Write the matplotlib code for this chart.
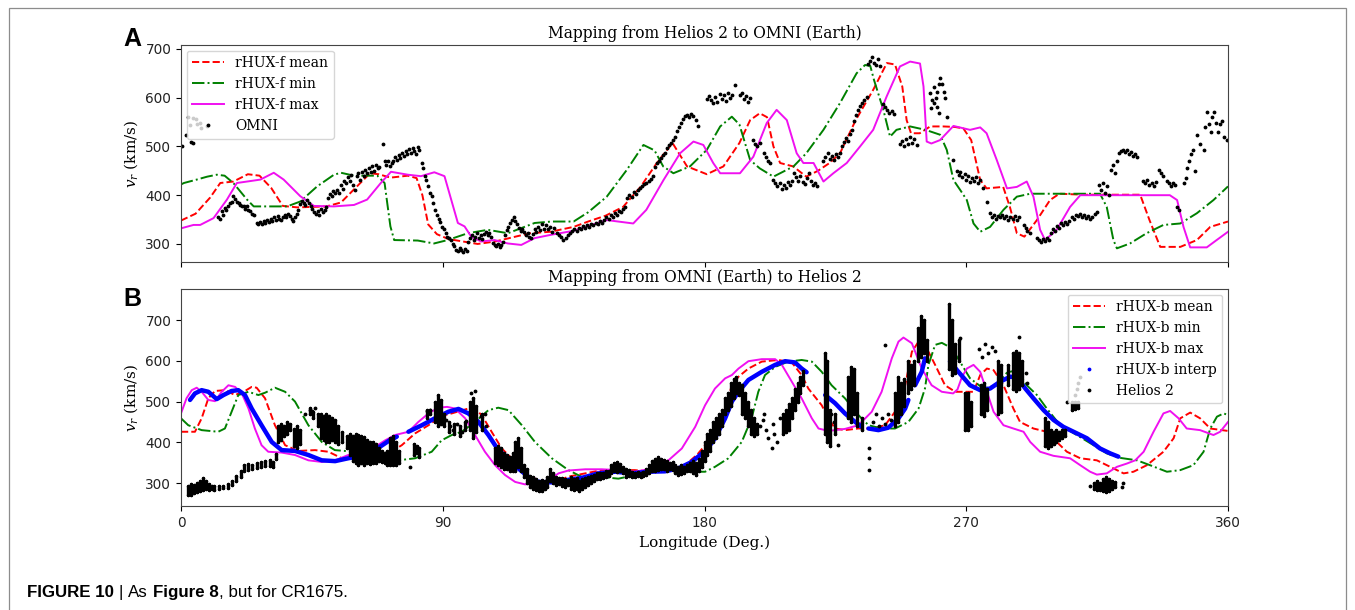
import numpy as np
import matplotlib
matplotlib.use('Agg')
import matplotlib.pyplot as plt
from matplotlib.lines import Line2D
from matplotlib.patches import Rectangle
from matplotlib.transforms import IdentityTransform

# ---- panel A: Helios 2 mapped forward to OMNI (lon deg, v km/s) ----
fwd_mean = [(0,348),(5,362),(10,395),(13.5,425),(18,428),(23,443),(27,440),(31,415),(35,378),(40,375),
            (50,377),(55,385),(60,415),(65,445),(68,443),(72,436),(78,440),(81,435),(83,400),(85,340),
            (88,320),(92,310),(97,305),(102,300),(108,305),(115,315),(120,322),(127,325),(135,335),(140,346),
            (146,358),(152,376),(158,417),(163.6,466),(169,507),(174,459),(180.8,443),(186.5,459),(192,507),
            (195.7,554),(199,568),(201.5,560),(203.7,500),(206,466),(210.5,459),(215,438),(219,450),(223,466),
            (226.6,486),(232,554),(238,616),(242.7,671),(245.5,668),(248,623),(249.5,554),(251,527),(254,527),
            (257.6,541),(262,541),(266,540),(269,537),(271.7,513),(274.8,431),(277,414),(282.7,417),(285,376),
            (287.4,322),(290,315),(294.3,349),(298.8,390),(302,403),(310,401),(320,401),(329.8,401),(333,349),
            (336.7,294),(343.6,294),(349.3,308),(353.9,335),(360,346)]
fwd_min = [(0,422),(1,425),(5.4,432),(9,438),(12.3,442),(15,440),(18,425),(22.7,391),(25,377),(36.5,377),
           (41,387),(46.8,418),(52.6,442),(55,446),(59.5,440),(67.5,440),(70,425),(71,380),(72,336),(73.3,308),
           (81.4,307),(87,301),(91.7,308),(98.6,322),(105.5,329),(112.4,322),(121.6,343),(127.4,346),(135,346),
           (140,365),(146.4,397),(153.3,452),(159,503),(162.8,492),(165.8,459),(169.3,445),(175,459),(180.8,493),
           (185.4,541),(189.4,561),(192,545),(195.7,472),(199,455),(203.7,438),(210.6,459),(215,486),(220.9,534),
           (226.6,589),(232.3,650),(235.2,667),(237,665),(238.3,636),(241.5,575),(243.8,520),(246,534),
           (250.7,541),(256,534),(261,524),(263.3,493),(265.6,431),(268,410),(270.2,390),(272.5,342),(274.8,325),
           (278.2,335),(282.8,370),(287.4,397),(292,403),(316,403),(318.3,376),(320.6,308),(321.8,291),
           (326.3,301),(332,322),(337.8,339),(343.6,342),(349.3,363),(355,390),(360,418)]
fwd_max = [(0,332),(4.3,339),(6.6,339),(11.2,353),(15.8,391),(19.2,425),(22.7,428),(27.3,432),(31.9,446),
           (35.3,432),(41,398),(45.7,378),(52.6,377),(59.5,380),(64,391),(68.7,425),(72.2,448),(78,442),
           (82.5,439),(87.1,447),(90.6,439),(92.9,391),(95.2,343),(97.5,336),(99.8,315),(103.2,305),(107.8,308),
           (112.4,301),(117,298),(121.6,312),(127.4,319),(135,327),(146.4,349),(155.5,342),(160,370),(165.9,431),
           (171.6,486),(176.2,510),(179.6,503),(183,466),(185.4,445),(192.2,445),(196.8,479),(201.4,548),
           (204.8,575),(208.3,554),(211.7,486),(214,466),(217.5,466),(220.9,428),(224.3,445),(228.9,466),
           (233.5,500),(238,534),(242.6,602),(247.2,664),(250.7,674),(254.1,670),(255.3,623),(256.4,510),
           (258,506),(261,513),(265.6,542),(271.3,534),(274.8,539),(277,527),(280.5,472),(284,414),(287.4,417),
           (290.8,428),(293.1,397),(295.4,329),(297.1,308),(301.1,329),(305.7,376),(309.2,400),(340,400),
           (342.5,390),(344.7,335),(347,293),(352.7,293),(356.1,308),(360,325)]
omni = [(0.2,500),(1.7,523),(2.5,560),(3.0,543),(3.5,510),(4.0,558),(4.2,508),(5.0,556),(5.5,545),(6.5,548),
        (7.0,537),(8.8,541),
        (12.8,356),(13.3,352),(14.0,367),(14.5,360),(15.0,374),(15.6,370),(16.2,377),(16.8,384),(17.4,387),
        (18.0,398),(18.6,392),(19.2,387),(19.8,383),(20.3,380),(21.0,378),(21.5,377),(22.1,372),(22.7,377),
        (23.2,370),(23.8,367),(24.4,362),(25.0,360),
        (26.0,343),(26.6,340),(27.2,345),(27.8,341),(28.4,347),(29.0,343),(29.6,350),(30.2,345),(30.8,352),
        (31.4,347),(32.0,355),(32.6,350),(33.2,357),(33.8,352),(34.4,350),(35.0,355),(35.6,360),(36.2,356),
        (36.8,362),(37.4,358),(38.0,352),(38.6,348),(39.2,355),(39.8,362),(40.4,370),
        (41.0,382),(41.6,388),(42.2,385),(42.8,380),(43.4,390),(44.0,384),(44.6,378),(45.2,372),
        (45.8,366),(46.4,362),(47.0,368),(47.6,360),(48.2,372),(48.8,365),(49.4,370),(50.0,375),
        (50.6,395),(51.2,402),(51.8,398),(52.4,408),(53.0,404),(53.6,410),(54.2,405),
        (55.0,420),(55.6,412),(56.2,430),(56.8,425),(57.4,438),(58.0,430),(58.6,442),(59.2,420),(59.8,410),
        (60.4,440),(61.0,445),(61.6,432),(62.2,448),(62.8,440),(63.4,452),(64.0,445),
        (64.6,455),(65.2,447),(65.8,460),(66.4,450),(67.0,462),(67.6,455),(68.2,458),
        (69.3,504),(70.0,470),(70.6,462),(71.2,470),(71.8,460),(72.4,465),
        (73.0,470),(73.6,478),(74.2,472),(74.8,482),(75.4,476),(76.0,486),(76.6,480),(77.2,490),(77.8,484),
        (78.4,494),(79.0,486),(79.6,496),(80.2,490),(80.8,485),(81.4,498),(82.0,492),
        (82.8,466),(83.3,455),(83.8,440),(84.3,432),(85.0,418),(85.6,405),(86.2,398),(86.8,385),(87.4,370),
        (88.0,360),(88.6,352),(89.2,345),(89.8,335),(90.4,330),(91.0,322),(91.6,315),(92.2,312),(92.8,308),
        (93.4,300),(94.0,295),(94.6,288),(95.2,285),(95.8,292),(96.4,288),(97.0,283),(97.6,290),(98.2,285),
        (98.8,305),(99.4,312),(100.0,318),(100.6,308),(101.2,315),(101.8,322),(102.4,312),(103.0,318),
        (103.6,310),(104.2,320),(104.8,325),(105.4,318),(106.0,322),(106.6,315),(107.2,302),(107.8,298),
        (108.4,296),(109.0,300),(109.6,294),(110.2,298),(110.8,305),
        (111.4,318),(112.0,328),(112.6,335),(113.2,342),(113.8,350),(114.4,355),(115.0,348),(115.6,340),
        (116.2,332),(116.8,326),(117.4,330),(118.0,325),(118.6,318),(119.2,322),(119.8,315),(120.4,312),
        (121.0,320),(121.6,330),(122.2,325),(122.8,335),(123.4,328),
        (124,340),(124.8,330),(125.5,338),(126.2,330),(127,335),(127.7,325),(128.4,332),(129.2,322),
        (130,318),(130.8,314),(131.5,308),(132.3,312),(133,318),(133.7,322),
        (134.5,326),(135.2,330),(136,327),(136.7,333),(137.4,330),(138.2,336),(138.9,333),(139.6,338),
        (140.4,335),(141.1,341),(141.8,338),(142.6,344),(143.3,341),(144,347),(144.7,344),(145.5,350),
        (146.2,356),(147,352),(147.7,360),(148.4,356),(149.2,364),(149.9,360),(150.6,368),(151.4,365),
        (152.1,372),(152.8,376),(153.5,395),(154.2,400),(155,397),(155.7,406),(156.4,402),(157.2,410),
        (157.9,414),(158.6,418),(159.3,422),(160,426),(160.8,430),(161.5,434),(162.2,440),
        (163,458),(163.6,465),(164.3,470),(165,476),(165.7,482),(166.4,486),
        (167.2,496),(167.8,502),(168.5,508),(169.2,514),(169.9,520),
        (170.6,532),(171.3,540),(172,548),(172.7,556),(173.4,562),(174.1,565),(174.8,560),(175.5,567),
        (176.2,562),(177,555),(177.7,541),
        (180.8,598),(181.5,604),(182.2,596),(183,590),(183.7,602),(184.4,592),
        (185.2,608),(186,598),(186.7,605),(187.4,594),(188.1,610),(188.8,600),(189.5,606),(190.5,626),
        (192.2,605),(192.9,610),(193.6,598),(194.3,604),(195,592),(195.7,600),
        (196.8,513),(197.5,505),(198.2,500),(199,508),(200.3,486),(201,478),(201.7,470),(202.5,466),
        (203.7,431),(204.4,425),(205.1,418),(205.8,424),(206.5,412),(207.2,420),(208,415),(208.7,428),
        (209.4,420),(210,430),(210.8,445),(211.5,438),(212.2,430),(213,440),(213.7,428),(214.4,422),
        (215.1,435),(215.8,445),(216.5,430),(217.2,420),(218,425),(218.6,418),
        (220.9,470),(221.6,478),(222.3,486),(223,474),(223.7,480),(224.4,472),(225.1,484),(225.8,478),
        (226.6,486),(227.3,500),(228,510),(228.7,518),(229.4,512),(230.1,525),(230.8,534),
        (231.5,552),(232.2,565),(232.9,575),(233.6,582),(234.3,590),(235,596),(235.8,602),
        (236.2,670),(237,676),(237.6,684),(238.3,672),(239,668),(239.7,680),(240.4,664),
        (241.5,588),(242.2,580),(242.9,575),(243.6,568),(244.3,572),(245,566),
        (247.3,505),(248,512),(248.7,500),(249.4,516),(250.1,504),(250.8,520),(251.5,508),(252.2,515),
        (253,502),(257.6,610),(258.3,595),(259,622),(259.9,580),(260.5,568),
        (258,578),(258.8,590),(259.5,600),(260,612),(260.5,628),(261,640),(261.6,628),(262.2,612),
        (262.8,600),(263.3,561),
        (265.6,472),(266.7,450),(267.4,442),(268,448),(268.7,438),(269.4,444),(270,432),(270.7,440),
        (271.4,428),(272,436),(272.7,430),(273.4,438),(274.1,426),(274.8,432),(275.9,415),(277,387),
        (278.2,363),(278.9,356),(279.6,360),(280.3,352),(281,358),(281.7,355),(282.4,360),(283,354),
        (283.8,358),(284.5,350),(285.2,356),(286,352),(286.7,358),(287.4,350),(288.1,356),
        (289.7,339),(290.4,332),(291,326),(291.8,322),
        (294.3,313),(295,308),(295.7,305),(296.4,310),(297.1,306),(297.8,312),(298.5,308),
        (299.2,322),(299.9,330),(300.6,326),(301.3,336),(302,332),(302.7,342),(303.4,338),(304.1,346),
        (304.8,340),(305.5,348),(306.2,356),(307,352),(307.7,360),(308.4,357),(309.1,362),(309.8,355),
        (310.5,360),(311.2,354),(312,358),(312.7,352),(313.4,356),(314.1,362),(314.9,365),
        (315.5,420),(316.2,410),(316.9,425),(317.6,405),(318.3,418),(319.1,400),
        (319.8,452),(320.5,462),(321.2,445),(321.9,470),
        (322.5,486),(323.2,490),(323.9,493),(324.6,488),(325.3,492),(326,485),(326.7,488),(327.4,480),
        (328,484),(328.7,478),
        (330.9,430),(331.6,424),(332.3,432),(333,420),(333.7,426),(334.4,418),(335.2,428),
        (336.4,452),(337,446),(337.6,440),
        (339,430),(339.7,424),(340.4,418),(341.1,426),(341.8,420),(342.4,376),(343,370),
        (344.7,424),(345.4,436),(346,455),(346.7,470),(347.4,484),(348,492),
        (348.6,450),(349.3,524),(350.5,505),(351.6,493),(352.2,540),(352.7,571),(353.3,545),(354,530),
        (354.6,560),(355.3,571),(356,548),(356.7,530),(357.3,545),(358,552),(358.6,520),(359.6,513)]

# ---- panel B: OMNI mapped back to Helios 2 ----
bwd_mean = [(0,426),(4.8,426),(7.1,459),(9.4,508),(11.7,526),(15.1,528),(18.6,516),(22,526),(24.3,536),
            (26,534),(28.9,508),(32.3,442),(35.8,393),(40.3,379),(46.1,381),(50.7,377),(55.3,361),(62.1,361),
            (66.7,367),(71.3,373),(75.9,393),(80.5,422),(85.1,442),(89.6,465),(93.1,471),(98.8,483),(101,482),
            (103.4,467),(106.8,426),(110.3,385),(114.9,352),(119.4,320),(124,303),(128.6,303),(133.2,316),
            (139,324),(144.7,332),(156,332),(161.9,328),(167.6,332),(173.3,344),(177.5,370),(180.2,393),
            (183.6,426),(187.1,483),(189.4,540),(191.7,561),(195.1,581),(199.7,598),(205.4,602),(210,596),
            (213.4,565),(215.7,532),(220.3,491),(222.6,459),(224.9,434),(228.3,430),(232.9,434),(237.5,434),
            (242.1,442),(245.5,475),(249,540),(251.3,622),(253.6,647),(255.8,639),(259.3,590),(262.7,540),
            (266.2,524),(272.5,524),(274.8,565),(277.1,581),(279.4,577),(282.8,540),(286.2,483),(288.5,450),
            (293.1,434),(297.7,426),(301.1,401),(304.6,377),(309.2,361),(314.9,356),(319.5,340),(324.1,324),
            (327.5,328),(332.1,344),(337.8,377),(341.3,410),(343.6,459),(347,473),(350.4,459),(353.9,434),
            (360,428)]
bwd_min = [(0,459),(2.5,442),(7.1,430),(12.8,426),(15.1,434),(17.4,475),(19.7,516),(23.2,524),(26.6,516),
           (29,522),(32.3,534),(35.8,524),(39.2,500),(43.8,442),(48.4,401),(52.9,381),(59.8,377),(64,377),
           (69,361),(74.7,356),(80.5,361),(86.2,377),(89.6,405),(93.1,418),(96.5,426),(101.1,450),(105.7,479),
           (109.1,485),(112.6,479),(117.2,442),(121.7,401),(127.5,361),(133.2,332),(139,311),(144.7,315),
           (150.4,311),(156.1,320),(161.9,328),(167.6,332),(173.3,328),(180.2,328),(183.6,340),(188.2,361),
           (192.8,401),(196.2,459),(198.5,524),(200.8,565),(204.3,585),(208.8,598),(213.4,602),(216.9,598),
           (220.3,573),(223.7,540),(228.3,508),(232.9,467),(236.4,442),(240.9,434),(245.5,434),(250.1,450),
           (253.6,483),(255.8,532),(257,590),(259.3,639),(261.6,644),(265,631),(268.5,590),(271.3,557),
           (275.9,532),(280.5,540),(284,571),(286.2,575),(288.5,565),(290.8,540),(294.3,516),(297.7,483),
           (302.3,442),(308,418),(313.8,393),(318.3,373),(322.9,362),(328.7,356),(333.2,344),(339,328),
           (343.6,332),(348.1,344),(351.6,377),(353.9,434),(356.2,463),(358.5,471),(360,467)]
bwd_max = [(0,471),(1.9,508),(3.7,528),(5.4,534),(7.1,524),(9.4,504),(11.7,501),(14,524),(16.3,540),
           (18.6,536),(20.9,520),(23.2,483),(25.4,434),(27.7,393),(30,377),(34.6,375),(39.2,369),(43.8,356),
           (48.4,352),(53,356),(57.5,369),(62.1,373),(66.7,389),(70.2,405),(73.6,418),(78.2,426),(81.6,450),
           (85.1,471),(88.5,485),(91.5,487),(94.2,483),(97.7,459),(101.1,418),(104.5,377),(108,344),
           (111.4,320),(114.9,303),(118.3,297),(121.7,299),(126.3,307),(129.8,324),(133.2,331),(139,334),
           (144.7,334),(150.4,332),(156.1,328),(161.9,336),(167.6,356),(172.2,385),(176.8,438),(180.2,491),
           (183.6,532),(187.1,557),(189.4,565),(191.7,581),(195.1,599),(199.7,604),(204.3,604),(206.6,590),
           (210,549),(213.4,508),(216.9,459),(219.2,434),(222.6,428),(228.3,433),(232.9,442),(237.5,475),
           (240.9,524),(244.4,606),(246.7,647),(248.4,657),(251.3,643),(254.7,581),(258.1,540),(261.6,524),
           (265.5,520),(267,530),(268.5,560),(270.2,581),(272.5,590),(274.8,573),(277.1,524),(279.4,475),
           (282.8,442),(286.2,434),(289.7,426),(292,401),(295.4,377),(300,367),(305.7,361),(309.2,344),
           (312.6,328),(314.9,321),(318.3,324),(321.8,340),(325.2,348),(328.1,356),(331,377),(334.4,426),
           (337.8,471),(340.1,477),(343,459),(345.8,434),(350.4,430),(355,418),(357.3,426),(360,450)]
# interpolated rHUX-b track, NaN marks the breaks
bwd_interp = [(3.1,504),(4.8,520),(7.1,528),(9.4,524),(12.3,506),(14.6,516),(17.4,526),(19.7,528),(22,516),
              (24.3,483),(27.7,442),(31.2,401),(34.6,381),(39.2,379),(43.8,369),(48.4,356),(53,354),
              (57.5,361),(62.1,367),(66.7,381),(71.3,403),(74.2,414),(np.nan,np.nan),
              (78.2,426),(82.8,442),(87.3,459),(91.9,475),(95.4,482),(98.8,471),(102.3,450),(105.7,418),
              (109.1,381),(112.6,361),(116,336),(119.4,316),(122.9,303),(127.5,302),(132.1,307),(137.8,313),
              (143.5,324),(149.3,328),(155,324),(160.7,328),(166.4,329),(171,336),(175.6,352),(179,372),
              (180.2,377),(183.6,410),(187.1,459),(189.4,500),(191.7,524),(195.1,553),(199.7,573),(204.3,590),
              (207.7,599),(211.1,596),(213.4,581),(215.1,572),(np.nan,np.nan),
              (221.5,516),(224.9,496),(228.3,471),(231.8,450),(234.1,438),(np.nan,np.nan),
              (236.4,434),(239.8,430),(243.2,436),(246.7,459),(249,483),(250.1,504),(np.nan,np.nan),
              (252.4,540),(254.7,573),(255.8,606),(np.nan,np.nan),
              (264.4,598),(267.3,573),(271.3,540),(274.8,528),(278.2,532),(281.7,549),(285.1,561),(287.4,559),
              (290.3,532),(293.1,508),(296.6,479),(300,455),(303.4,438),(306.9,426),(311.5,410),(316,385),
              (319.5,373),(322.3,365)]
# Helios 2 in situ speeds: dense stretches as (lon, low, high) columns, plus isolated samples
helios_cols = [(2.5,272,292),(3.5,270,298),(4.5,275,295),(5.5,278,300),(6.5,280,305),(7.5,283,312),
               (8.5,285,305),(9.5,283,298),(10.5,285,293),(11.5,283,292),(13,285,292),(14.5,287,293),
               (16,288,298),(17.5,296,305),(19,305,318),(20.5,315,330),(21.5,330,345),(23,333,348),
               (24.5,335,345),(26,338,350),(27.5,340,352),(29,342,355),(30.5,343,358),(31.5,340,352),
               (32.5,360,372),(33.5,400,440),(34.5,405,445),(35.5,415,440),(36.5,420,450),(37.5,430,445),
               (39,390,432),(40,385,440),(41,395,430),(44.5,470,485),(45.5,460,475),(47,440,470),(48,410,470),
               (49,405,465),(50,400,470),(51,400,465),(52,405,460),(53,400,455),(54,395,440),(55.5,400,425),
               (57,385,415),(58,370,420),(59,355,415),(60,350,420),(61,345,418),(62,350,415),(63,345,412),
               (64,350,405),(65,348,400),(66,350,400),(67,350,395),(68,355,385),(69,352,380),(70,350,375),
               (71,345,380),(72,345,410),(73,345,415),(74,345,400),(75,350,380),(80,370,395),(81,375,390),
               (82,365,385),(84.5,460,480),(85.5,470,480),(87.5,450,500),(88.5,440,515),(89.5,445,505),
               (90.5,440,470),(92,425,450),(94,420,445),(96,415,440),(97.5,430,450),(99.5,430,500),
               (100.5,410,510),(101.5,425,490),(103.5,430,470),(108,350,385),(109,345,390),(110,340,385),
               (111,335,375),(112,335,370),(113,330,365),(114,330,375),(115,330,400),(116,340,410),
               (117,330,385),(118,315,345),(119,300,335),(120,290,318),(121,285,315),(122,282,310),
               (123,280,305),(124,280,308),(125,285,305),(126,290,315),(127,305,335),(128,300,325),
               (129,295,315),(130,298,312),(131,292,312),(132,290,310),(133,295,308),(134,285,315),
               (135,282,310),(136,285,312),(137,280,305),(138,285,310),(139,290,312),(140,295,315),
               (141,300,318),(142,305,320),(143,310,325),(144,310,325),(145,312,325),(146,315,330),
               (147,318,330),(148,325,345),(149,330,350),(150,328,352),(151,330,348),(152,325,340),
               (153,315,335),(154,318,332),(155,315,328),(156,315,325),(157,318,328),(158,315,325),
               (159,318,328),(160,320,335),(161,325,345),(162,330,355),(163,330,360),(164,332,365),
               (165,335,360),(166,335,358),(167,330,355),(168,335,350),(169,332,352),(170,325,345),
               (171,320,340),(172,322,345),(173,325,340),(174,330,345),(175,330,350),(176,325,355),
               (177,320,350),(178,330,360),(179,340,380),(180,355,400),(181,370,420),(182,380,430),
               (183,400,450),(184,410,460),(185,420,470),(186,440,480),(187,470,510),(188,480,520),
               (189,490,545),(190,510,555),(191,520,560),(192,515,545),(193,470,540),(194,460,520),
               (195,440,500),(196,420,480),(197,415,460),(198,420,445),(207,420,470),(208,425,480),
               (209,430,495),(210,460,510),(211,480,530),(212,500,545),(213,520,560),(214,540,575),
               (221.5,420,620),(222.2,400,600),(223,390,480),(225,420,470),(229.5,460,560),(230.5,450,585),
               (231.5,470,580),(232.5,440,520),(234,430,460),(245.5,440,520),(246.5,450,560),(247.5,470,545),
               (248.5,490,555),(250,520,600),(251,530,590),(252,540,600),(253.5,600,680),(254.5,610,710),
               (255.5,620,700),(256.5,600,650),(264,580,740),(265,565,700),(266,570,640),(267.5,600,650),
               (269.5,430,520),(270.5,430,520),(271.5,440,500),(275,470,540),(276,465,545),(277,480,530),
               (281,470,600),(282,475,590),(284.5,540,590),(286,530,620),(287,525,625),(288,530,620),
               (289,540,600),(297,390,460),(298,385,450),(299,390,430),(300,395,425),(301,400,430),
               (302,405,425),(303,410,430),(304,415,430),(306.5,480,500),(307.5,482,500),(308.5,485,498),
               (314,285,300),(315,283,305),(316,283,300),(317,280,310),(318,278,315),(319,280,310),
               (320,285,305),(321,290,302)]
helios_pts = [(44.5,480),(45.2,476),(42.8,470),(46,485),(78.8,340),(84.5,478),(85.6,480),(91,455),
              (92.5,440),(93.5,430),(95,445),(96.5,425),(98,452),(103,465),(104.5,470),(105,440),(99.8,520),
              (101,525),(199,440),(200,455),(201,430),(202,410),(203.1,387),(204,420),(205,400),(206,460),
              (200.5,470),(203.5,445),(223.5,470),(224.5,450),(226,393),(236.4,385),(236.4,361),(236.4,332),
              (238,450),(239,470),(240,440),(241,460),(242,445),(243,470),(244,455),(242.1,639),(267.9,655),
              (274.5,630),(275.5,610),(276.5,640),(277.5,620),(279,635),(280,625),(288,659),(290.5,570),
              (291,545),(304.6,500),(307.5,515),(308,530),(308.5,545),(309,560),(312.5,292),(323.5,290),
              (324,300)]

lon_ticks = [0, 90, 180, 270, 360]
v_ticks = [300, 400, 500, 600, 700]

MAG = '#f010f0'

plt.rcParams['font.family'] = 'DejaVu Serif'
plt.rcParams['mathtext.fontset'] = 'dejavuserif'

W, H = 1355, 610
fig = plt.figure(figsize=(W / 100, H / 100), dpi=100)
ax1 = fig.add_axes([181 / W, 1 - 262 / H, 1047 / W, 217 / H])
ax2 = fig.add_axes([181 / W, 1 - 506 / H, 1047 / W, 217 / H])


def xy(pairs):
    a = np.array(pairs, dtype=float)
    return a[:, 0], a[:, 1]


def style(ax, ylim, title):
    ax.set_xlim(0, 360)
    ax.set_ylim(*ylim)
    ax.set_xticks(lon_ticks)
    ax.set_yticks(v_ticks)
    ax.set_title(title, fontsize=11.2, pad=5)
    ax.set_ylabel('$v_r$ (km/s)', fontsize=11)
    for lab in ax.get_xticklabels() + ax.get_yticklabels():
        lab.set_family('DejaVu Sans')
        lab.set_fontsize(9.8)
        lab.set_color('#222222')
    for sp in ax.spines.values():
        sp.set_color('#444444')


# panel A
ax1.plot(*xy(fwd_mean), 'r--', lw=1.4, label='rHUX-f mean')
ax1.plot(*xy(fwd_min), 'g-.', lw=1.4, label='rHUX-f min')
ax1.plot(*xy(fwd_max), '-', color=MAG, lw=1.4, label='rHUX-f max')
ax1.plot(*xy(omni), 'k.', ms=3.5, ls='none', label='OMNI')
style(ax1, (263, 708), 'Mapping from Helios 2 to OMNI (Earth)')
ax1.tick_params(axis='x', labelbottom=False)
ax1.legend(loc='upper left', fontsize=10, framealpha=0.8, borderaxespad=0.4, handlelength=2.3)

# panel B
ax2.plot(*xy(bwd_mean), 'r--', lw=1.4)
ax2.plot(*xy(bwd_min), 'g-.', lw=1.4)
ax2.plot(*xy(bwd_max), '-', color=MAG, lw=1.4)
ax2.plot(*xy(bwd_interp), '-', color='blue', lw=3.2, solid_capstyle='round')
hc = np.array(helios_cols, dtype=float)
ax2.vlines(hc[:, 0], hc[:, 1], hc[:, 2], color='k', lw=2.4, capstyle='round')
ax2.plot(hc[:, 0], hc[:, 1], 'k.', ms=3, ls='none')
ax2.plot(hc[:, 0], hc[:, 2], 'k.', ms=3, ls='none')
ax2.plot(*xy(helios_pts), 'k.', ms=3.5, ls='none')
style(ax2, (244, 776), 'Mapping from OMNI (Earth) to Helios 2')
ax2.set_xlabel('Longitude (Deg.)', fontsize=11)
handles = [Line2D([], [], color='r', ls='--', lw=1.4),
           Line2D([], [], color='g', ls='-.', lw=1.4),
           Line2D([], [], color=MAG, ls='-', lw=1.4),
           Line2D([], [], color='blue', marker='.', ms=3.5, ls='none'),
           Line2D([], [], color='k', marker='.', ms=3.5, ls='none')]
ax2.legend(handles, ['rHUX-b mean', 'rHUX-b min', 'rHUX-b max', 'rHUX-b interp', 'Helios 2'],
           loc='upper right', fontsize=10, framealpha=0.8, borderaxespad=0.4, handlelength=2.3)

# panel letters
pix = IdentityTransform()
fig.text(123, H - 46, 'A', transform=pix, fontsize=18, fontweight='bold', family='Liberation Sans')
fig.text(123, H - 306, 'B', transform=pix, fontsize=18, fontweight='bold', family='Liberation Sans')

# caption, bold and regular runs placed one after another
renderer = fig.canvas.get_renderer()
cap_font = ['Liberation Sans Narrow', 'Liberation Sans']
runs = [('FIGURE 10', 'bold', 5), ('|', 'normal', 5), ('As', 'normal', 5),
        ('Figure 8', 'bold', 0), (', but for CR1675.', 'normal', 0)]
x = 27
for s, w, gap in runs:
    t = fig.text(x, 13, s, transform=pix, fontsize=12.2, fontweight=w, family=cap_font)
    x += t.get_window_extent(renderer).width + gap

# figure border
fig.add_artist(Rectangle((9 / W, -0.1), (1346 - 9) / W, 1.1 - 8 / H, transform=fig.transFigure,
                         fill=False, edgecolor='#8c8c8c', lw=0.9))

fig.savefig('out.png', dpi=100)
